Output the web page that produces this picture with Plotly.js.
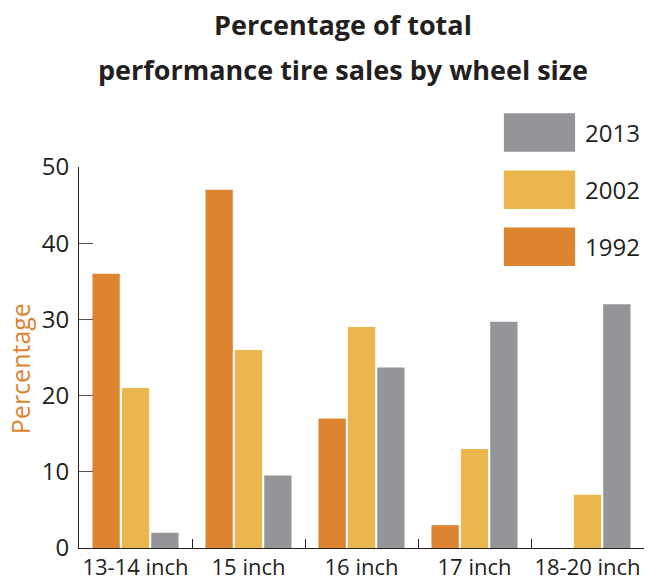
<!DOCTYPE html>
<html>
<head>
<meta charset="utf-8">
<script src="https://cdn.plot.ly/plotly-3.0.1.min.js"></script>
<style>
  html, body { margin: 0; padding: 0; background: #fff; }
  #chart { width: 666px; height: 586px; }
</style>
</head>
<body>
<div id="chart"></div>
<script>
// Wheel size categories
const sizes = ['13-14 inch', '15 inch', '16 inch', '17 inch', '18-20 inch'];

// Share of performance tire sales (%) per year
const years = ['1992', '2002', '2013'];
const sales1992 = [36, 47, 17, 3, 0];
const sales2002 = [21, 26, 29, 13, 7];
const sales2013 = [2, 9.5, 23.7, 29.7, 32];
const yearColors = ['#dc8430', '#ebb64d', '#939598'];

const yTicks = [0, 10, 20, 30, 40, 50];

const titleLines = ['Percentage of total', 'performance tire sales by wheel size'];

const ink = '#231f20';
const font = 'Open Sans, sans-serif';

const traces = [sales1992, sales2002, sales2013].map((vals, i) => ({
    type: 'bar',
    name: years[i],
    x: sizes,
    y: vals,
    marker: { color: yearColors[i], line: { width: 0 } },
    hoverinfo: 'x+y+name'
}));

// Big swatch legend drawn by hand (plotly's legend swatches are too small)
const shapes = [];
const annotations = [];
const legendOrder = [2, 1, 0];
legendOrder.forEach((idx, row) => {
    const top = 1.141 - row * 0.15;
    shapes.push({
        type: 'rect', xref: 'paper', yref: 'paper',
        x0: 0.752, x1: 0.878, y0: top - 0.101, y1: top,
        fillcolor: yearColors[idx], line: { width: 0 }
    });
    annotations.push({
        xref: 'paper', yref: 'paper', x: 0.892, y: top - 0.05,
        xanchor: 'left', yanchor: 'middle', showarrow: false,
        text: years[idx], font: { family: font, size: 24, color: ink }
    });
});

// y axis title
annotations.push({
    xref: 'paper', yref: 'paper', x: -0.104, y: 0.47,
    xanchor: 'center', yanchor: 'middle', showarrow: false, textangle: -90,
    text: 'Percentage', font: { family: font, size: 25, color: '#dc8430' }
});

// two-line bold title
titleLines.forEach((line, i) => {
    annotations.push({
        xref: 'paper', yref: 'paper', x: 0.467, y: 1.374 - i * 0.118,
        xanchor: 'center', yanchor: 'middle', showarrow: false,
        text: '<b>' + line + '</b>',
        font: { family: font, size: 27, color: ink }
    });
});

const layout = {
    width: 666,
    height: 586,
    margin: { l: 79, r: 22, t: 167, b: 38 },
    paper_bgcolor: '#fff',
    plot_bgcolor: '#fff',
    showlegend: false,
    barmode: 'group',
    bargap: 0.22,
    bargroupgap: 0.07,
    xaxis: {
        type: 'category',
        showline: true, linecolor: ink, linewidth: 1,
        ticks: 'inside', tickson: 'boundaries', ticklen: 9, tickcolor: ink,
        tickangle: 0,
        showgrid: false, zeroline: false,
        tickfont: { family: font, size: 22, color: ink }
    },
    yaxis: {
        range: [0, 50],
        tickvals: yTicks,
        showline: true, linecolor: ink, linewidth: 1,
        ticks: 'inside', ticklen: 14, tickcolor: '#555',
        ticklabelstandoff: 4,
        showgrid: false, zeroline: false,
        tickfont: { family: font, size: 24, color: ink }
    },
    shapes: shapes,
    annotations: annotations
};

Plotly.newPlot('chart', traces, layout, { displayModeBar: false, staticPlot: true });
</script>
</body>
</html>
